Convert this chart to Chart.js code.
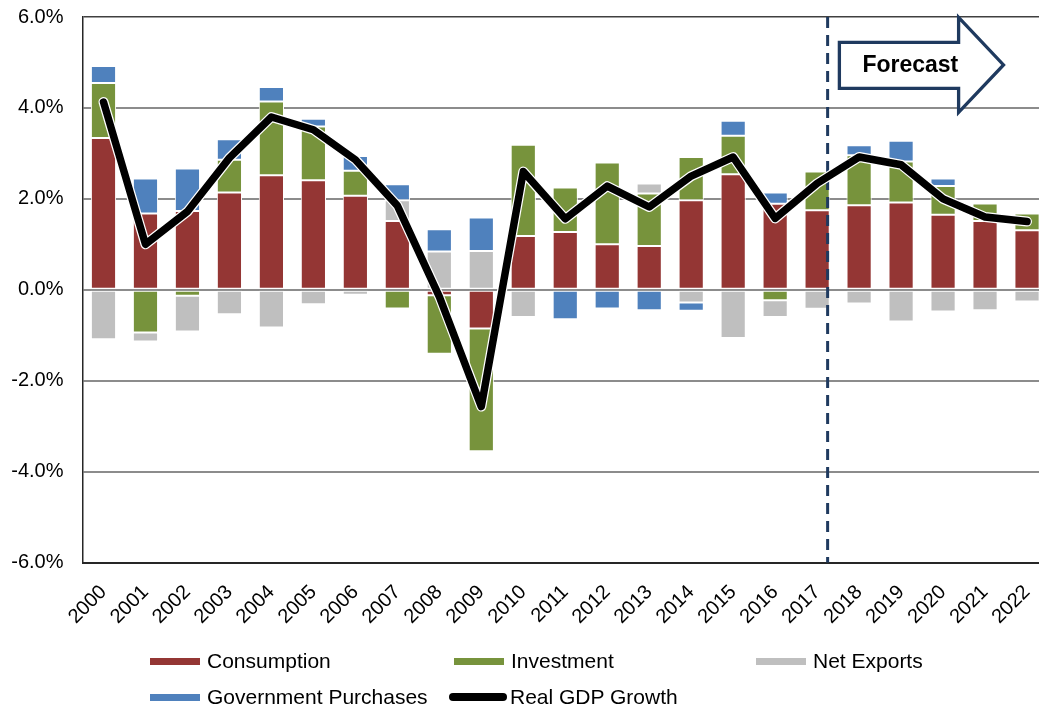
<!DOCTYPE html>
<html>
<head>
<meta charset="utf-8">
<script src="https://cdn.jsdelivr.net/npm/chart.js@4.4.1/dist/chart.umd.min.js"></script>
<style>
  html, body { margin:0; padding:0; background:#fff; overflow:hidden; }
  #wrap { position:relative; width:1054px; height:710px; }
  #legend { position:absolute; left:0; top:0; width:1039px; height:710px; pointer-events:none;
            font-family:"Liberation Sans", Arial, sans-serif; font-size:21px; color:#000; }
  .item { position:absolute; display:flex; align-items:center; height:24px; white-space:nowrap; }
  .sw { width:50px; height:7px; margin-right:7px; }
  .ln { width:58px; height:8px; border-radius:4px; background:#000; margin-right:3px; }
</style>
</head>
<body>
<div id="wrap">
  <canvas id="c"></canvas>
  <div id="legend"></div>
</div>
<script>
// components of real GDP growth, percentage points
const years = ['2000','2001','2002','2003','2004','2005','2006','2007','2008','2009','2010',
  '2011','2012','2013','2014','2015','2016','2017','2018','2019','2020','2021','2022'];

const consumption = [3.34, 1.68, 1.73, 2.14, 2.52, 2.41, 2.07, 1.51, -0.12, -0.85, 1.18,
  1.27, 1.00, 0.96, 1.97, 2.54, 1.89, 1.75, 1.86, 1.92, 1.65, 1.51, 1.31];
const investment = [1.21, -0.94, -0.13, 0.72, 1.62, 1.18, 0.55, -0.41, -1.29, -2.70, 2.01,
  0.98, 1.80, 1.16, 0.95, 0.85, -0.23, 0.85, 1.10, 0.90, 0.63, 0.39, 0.37];
const netExports = [-1.09, -0.20, -0.79, -0.54, -0.83, -0.32, -0.11, 0.46, 0.84, 0.85, -0.60,
  0, 0, 0.22, -0.28, -1.06, -0.37, -0.42, -0.30, -0.70, -0.48, -0.45, -0.26];
const govPurchases = [0.37, 0.77, 0.94, 0.45, 0.32, 0.17, 0.32, 0.35, 0.49, 0.74, 0,
  -0.65, -0.41, -0.45, -0.18, 0.33, 0.25, 0, 0.22, 0.46, 0.17, 0.04, 0];
const realGdp = [4.13, 1.00, 1.72, 2.90, 3.80, 3.52, 2.86, 1.85, -0.15, -2.57, 2.60,
  1.56, 2.28, 1.82, 2.50, 2.92, 1.57, 2.34, 2.92, 2.75, 2.00, 1.60, 1.50];

const yTicks = [-6, -4, -2, 0, 2, 4, 6];

const C_CONS = '#943634', C_INV = '#77933C', C_NX = '#BFBFBF', C_GOV = '#4F81BD';
const NAVY = '#1F3A5F';
const FONT = '"Liberation Sans", Arial, sans-serif';

// forecast marker (category index / axis value units)
const FORECAST_X = 17.25;
const ARROW = { left: 17.53, neck: 20.37, tip: 21.44, bodyTop: 5.44, bodyBottom: 4.43,
                headTop: 5.99, headBottom: 3.90, textX: 19.22 };

const forecastPlugin = {
  id: 'forecast',
  beforeDatasetDraw(chart, args) {
    if (args.index !== 4) return; // under the GDP line
    const { ctx, chartArea, scales: { x } } = chart;
    const px = x.getPixelForValue(FORECAST_X);
    ctx.save();
    ctx.strokeStyle = NAVY;
    ctx.lineWidth = 3;
    ctx.setLineDash([11, 7]);
    ctx.beginPath();
    ctx.moveTo(px, chartArea.top);
    ctx.lineTo(px, chartArea.bottom);
    ctx.stroke();
    ctx.setLineDash([]);
    // thin white edge round the GDP line
    const pts = chart.getDatasetMeta(4).data;
    ctx.strokeStyle = '#FFFFFF';
    ctx.lineWidth = 10;
    ctx.lineJoin = 'round';
    ctx.lineCap = 'round';
    ctx.beginPath();
    pts.forEach((p, i) => i ? ctx.lineTo(p.x, p.y) : ctx.moveTo(p.x, p.y));
    ctx.stroke();
    ctx.restore();
  },
  afterDatasetsDraw(chart) {
    const { ctx, scales: { x, y } } = chart;
    const xa = v => x.getPixelForValue(v), ya = v => y.getPixelForValue(v);
    const mid = (ARROW.headTop + ARROW.headBottom) / 2;
    ctx.save();
    ctx.beginPath();
    ctx.moveTo(xa(ARROW.left), ya(ARROW.bodyTop));
    ctx.lineTo(xa(ARROW.neck), ya(ARROW.bodyTop));
    ctx.lineTo(xa(ARROW.neck), ya(ARROW.headTop));
    ctx.lineTo(xa(ARROW.tip), ya(mid));
    ctx.lineTo(xa(ARROW.neck), ya(ARROW.headBottom));
    ctx.lineTo(xa(ARROW.neck), ya(ARROW.bodyBottom));
    ctx.lineTo(xa(ARROW.left), ya(ARROW.bodyBottom));
    ctx.closePath();
    ctx.fillStyle = '#fff';
    ctx.fill();
    ctx.strokeStyle = NAVY;
    ctx.lineWidth = 3.3;
    ctx.lineJoin = 'miter';
    ctx.stroke();
    ctx.fillStyle = '#000';
    ctx.font = 'bold 23px ' + FONT;
    ctx.textAlign = 'center';
    ctx.textBaseline = 'middle';
    ctx.fillText('Forecast', xa(ARROW.textX), ya(mid) + 1);
    ctx.restore();
  }
};

function barSet(label, data, color) {
  return {
    type: 'bar', label, data,
    backgroundColor: color,
    borderColor: '#FFFFFF',
    borderWidth: 1,
    borderSkipped: false,
    barPercentage: 0.6,
    categoryPercentage: 1.0,
    order: 2
  };
}

new Chart(document.getElementById('c'), {
  type: 'bar',
  data: {
    labels: years,
    datasets: [
      barSet('Consumption', consumption, C_CONS),
      barSet('Investment', investment, C_INV),
      barSet('Net Exports', netExports, C_NX),
      barSet('Government Purchases', govPurchases, C_GOV),
      {
        type: 'line', label: 'Real GDP Growth', data: realGdp,
        borderColor: '#000000', borderWidth: 7.5,
        pointRadius: 0, tension: 0, fill: false,
        borderJoinStyle: 'round', borderCapStyle: 'round',
        order: 0
      }
    ]
  },
  options: {
    responsive: true,
    maintainAspectRatio: false,
    animation: false,
    layout: { padding: { top: 17, left: 0, right: 0, bottom: 0 } },
    scales: {
      x: {
        stacked: true,
        grid: { display: false },
        border: { display: true, color: '#262626', width: 2 },
        ticks: {
          color: '#000', font: { family: FONT, size: 20 },
          maxRotation: 45, minRotation: 45, autoSkip: false, padding: 10
        },
        afterFit(s) { s.height = 147.5; }
      },
      y: {
        stacked: true,
        min: -6, max: 6,
        afterBuildTicks(s) { s.ticks = yTicks.map(v => ({ value: v })); },
        grid: {
          drawTicks: false,
          color: c => c.tick && c.tick.value === 6 ? '#404040' : '#8C8C8C',
          lineWidth: c => c.tick && c.tick.value === 6 ? 1.5 : 2
        },
        border: { display: true, color: '#262626', width: 1.5 },
        ticks: {
          color: '#000', font: { family: FONT, size: 20 }, padding: 19,
          callback: v => v.toFixed(1) + '%'
        },
        afterFit(s) { s.width = 82.5; s.paddingTop = 0; s.paddingBottom = 0; }
      }
    },
    plugins: {
      legend: { display: false },
      tooltip: { enabled: false }
    }
  },
  plugins: [forecastPlugin]
});

// legend laid out in fixed columns like the original
const legendItems = [
  { label: 'Consumption', color: C_CONS, left: 150, top: 649 },
  { label: 'Investment', color: C_INV, left: 454, top: 649 },
  { label: 'Net Exports', color: C_NX, left: 756, top: 649 },
  { label: 'Government Purchases', color: C_GOV, left: 150, top: 685 },
  { label: 'Real GDP Growth', line: true, left: 449, top: 685 }
];
const leg = document.getElementById('legend');
legendItems.forEach(it => {
  const d = document.createElement('div');
  d.className = 'item';
  d.style.left = it.left + 'px';
  d.style.top = it.top + 'px';
  const s = document.createElement('span');
  s.className = it.line ? 'ln' : 'sw';
  if (!it.line) s.style.background = it.color;
  const t = document.createElement('span');
  t.textContent = it.label;
  d.appendChild(s);
  d.appendChild(t);
  leg.appendChild(d);
});
</script>
</body>
</html>
